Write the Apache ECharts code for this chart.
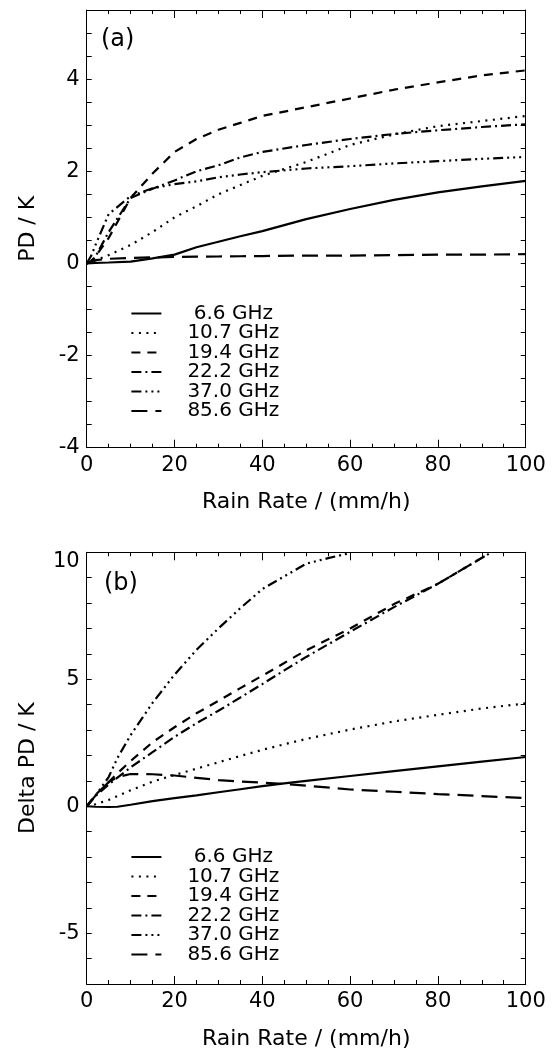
<!DOCTYPE html>
<html>
<head>
<meta charset="utf-8">
<script src="https://cdn.jsdelivr.net/npm/echarts@6.0.0/dist/echarts.min.js"></script>
<style>
html,body{margin:0;padding:0;background:#fff;}
#chart{width:552px;height:1051px;}
</style>
</head>
<body>
<div id="chart"></div>
<script>
// ---------- data ----------
const seriesNames = [' 6.6 GHz', '10.7 GHz', '19.4 GHz', '22.2 GHz', '37.0 GHz', '85.6 GHz'];
const xTicks = [0, 20, 40, 60, 80, 100];

// panel (a): PD / K
const rainA = [0, 1, 2, 5, 10, 15, 20, 25, 30, 35, 40, 50, 60, 70, 80, 90, 100];
const pdA_066 = [0, 0.005, 0.01, 0.02, 0.04, 0.11, 0.19, 0.35, 0.47, 0.59, 0.70, 0.96, 1.18, 1.38, 1.54, 1.67, 1.79];
const pdA_107 = [0, 0.03, 0.07, 0.18, 0.40, 0.68, 1.00, 1.24, 1.50, 1.70, 1.90, 2.20, 2.57, 2.80, 2.98, 3.09, 3.20];
const pdA_194 = [0, 0.05, 0.15, 0.55, 1.42, 1.95, 2.42, 2.70, 2.90, 3.05, 3.20, 3.39, 3.58, 3.77, 3.93, 4.08, 4.19];
const pdA_222 = [0, 0.03, 0.15, 0.68, 1.42, 1.62, 1.80, 2.00, 2.13, 2.30, 2.42, 2.57, 2.70, 2.81, 2.89, 2.96, 3.02];
const pdA_370 = [0, 0.16, 0.40, 1.07, 1.46, 1.63, 1.72, 1.78, 1.87, 1.93, 1.98, 2.06, 2.11, 2.17, 2.22, 2.27, 2.31];
const pdA_856 = [0, 0.04, 0.07, 0.10, 0.12, 0.13, 0.14, 0.145, 0.15, 0.155, 0.16, 0.17, 0.17, 0.18, 0.19, 0.19, 0.20];

// panel (b): Delta PD / K
const rainB = [0, 2, 5, 7, 10, 15, 20, 25, 30, 35, 40, 45, 50, 60, 70, 80, 90, 100];
const rainB_194 = [0, 2, 5, 7, 10, 15, 20, 25, 30, 35, 40, 45, 50, 60, 70, 80, 90, 92];
const rainB_222 = [0, 2, 5, 7, 10, 15, 20, 25, 30, 35, 40, 45, 50, 60, 70, 80, 90, 92];
const rainB_370 = [0, 2, 5, 7, 10, 15, 20, 25, 30, 35, 40, 45, 50, 55, 60];
const dpdB_066 = [0, -0.02, -0.03, -0.02, 0.06, 0.20, 0.32, 0.43, 0.55, 0.67, 0.79, 0.90, 1.00, 1.19, 1.38, 1.57, 1.76, 1.94];
const dpdB_107 = [0, 0.08, 0.25, 0.40, 0.63, 0.97, 1.23, 1.48, 1.73, 1.98, 2.22, 2.44, 2.65, 3.02, 3.34, 3.60, 3.85, 4.05];
const dpdB_194 = [0, 0.45, 0.95, 1.30, 1.78, 2.52, 3.11, 3.66, 4.15, 4.65, 5.14, 5.64, 6.14, 7.00, 7.96, 8.76, 9.78, 9.98];
const dpdB_222 = [0, 0.40, 0.85, 1.13, 1.53, 2.13, 2.73, 3.27, 3.76, 4.28, 4.81, 5.35, 5.88, 6.87, 7.84, 8.76, 9.78, 9.98];
const dpdB_370 = [0, 0.42, 1.15, 1.90, 2.80, 4.07, 5.18, 6.16, 7.00, 7.80, 8.55, 9.05, 9.55, 9.77, 9.97];
const dpdB_856 = [0, 0.42, 0.95, 1.15, 1.27, 1.26, 1.21, 1.12, 1.03, 0.97, 0.93, 0.88, 0.81, 0.66, 0.57, 0.48, 0.40, 0.32];

// ---------- styles ----------
const FONT = 'DejaVu Sans, Liberation Sans, Arial, sans-serif';
const dashStyles = ['solid', [2, 5.5], [9, 7], [10, 4, 2, 4], [10, 4, 2, 4, 2, 4, 2, 4], [16, 8]];

function zip(xs, ys) { return xs.map((x, i) => [x, ys[i]]); }

const panelA = [
  zip(rainA, pdA_066), zip(rainA, pdA_107), zip(rainA, pdA_194),
  zip(rainA, pdA_222), zip(rainA, pdA_370), zip(rainA, pdA_856)
];
const panelB = [
  zip(rainB, dpdB_066), zip(rainB, dpdB_107), zip(rainB_194, dpdB_194),
  zip(rainB_222, dpdB_222), zip(rainB_370, dpdB_370), zip(rainB, dpdB_856)
];

const grids = [
  { left: 86.7, top: 10, width: 439, height: 437.7 },
  { left: 86.7, top: 552.3, width: 439, height: 438.7 }
];

function xAxes(g) {
  const base = {
    type: 'value', gridIndex: g, min: xTicks[0], max: xTicks[xTicks.length - 1], interval: 20,
    axisLine: { show: true, onZero: false, lineStyle: { color: '#000', width: 1 } },
    axisTick: { show: true, inside: true, length: 8, lineStyle: { color: '#000', width: 1 } },
    minorTick: { show: true, splitNumber: 4, length: 4, lineStyle: { color: '#000', width: 1 } },
    splitLine: { show: false }, minorSplitLine: { show: false }
  };
  return [
    Object.assign({}, base, {
      position: 'bottom',
      axisLabel: { show: true, fontSize: 21, color: '#000', fontFamily: FONT, margin: 7 },
      name: 'Rain Rate / (mm/h)', nameLocation: 'middle', nameGap: 44,
      nameTextStyle: { fontSize: 22, color: '#000', fontFamily: FONT }
    }),
    Object.assign({}, base, { position: 'top', axisLabel: { show: false } })
  ];
}

function yAxes(g, min, max, step, labelStep, name, topLabelShift) {
  const base = {
    type: 'value', gridIndex: g, min: min, max: max, interval: step,
    axisLine: { show: true, onZero: false, lineStyle: { color: '#000', width: 1 } },
    axisTick: { show: true, inside: true, length: 5, lineStyle: { color: '#000', width: 1 } },
    splitLine: { show: false }
  };
  return [
    Object.assign({}, base, {
      position: 'left',
      axisLabel: {
        show: true, fontSize: 21, color: '#000', fontFamily: FONT, margin: 7,
        showMaxLabel: true,
        formatter: function (v) {
          const r = Math.round(v * 1000) / 1000;
          if (Math.abs(r / labelStep - Math.round(r / labelStep)) > 1e-6) return '';
          if (topLabelShift && r === max) return '{t|' + r + '}';
          return String(r);
        },
        rich: { t: { fontSize: 21, color: '#000', fontFamily: FONT, padding: [18, 0, 0, 0] } }
      },
      name: name, nameLocation: 'middle', nameGap: 47,
      nameTextStyle: { fontSize: 22, color: '#000', fontFamily: FONT }
    }),
    Object.assign({}, base, { position: 'right', axisLabel: { show: false } })
  ];
}

const series = [];
[panelA, panelB].forEach((panel, g) => {
  panel.forEach((data, i) => {
    series.push({
      type: 'line', name: seriesNames[i], data: data,
      xAxisIndex: g * 2, yAxisIndex: g * 2,
      symbol: 'none', smooth: false, clip: true, animation: false,
      lineStyle: { color: '#000', width: 2.2, type: dashStyles[i] },
      itemStyle: { color: '#000' }
    });
  });
});

function legendAt(top) {
  return {
    data: seriesNames, orient: 'vertical', left: 130.4, top: top,
    itemWidth: 30, itemHeight: 19.5, itemGap: -0.5, padding: 0,
    selectedMode: false,
    itemStyle: { opacity: 0 },
    textStyle: { fontSize: 20, color: '#000', fontFamily: FONT, padding: [0, 0, 0, 21] }
  };
}

const option = {
  backgroundColor: '#fff',
  animation: false,
  grid: grids,
  xAxis: xAxes(0).concat(xAxes(1)),
  yAxis: yAxes(0, -4, 5.5, 0.5, 2, 'PD / K', false).concat(yAxes(1, -7, 10, 1, 5, 'Delta PD / K', true)),
  legend: [legendAt(303.5), legendAt(847)],
  series: series,
  graphic: [
    { type: 'text', x: 101, y: 39.3, style: { text: '(a)', font: '24px ' + FONT, fill: '#000', verticalAlign: 'middle' } },
    { type: 'text', x: 104, y: 584, style: { text: '(b)', font: '24px ' + FONT, fill: '#000', verticalAlign: 'middle' } }
  ]
};

const chart = echarts.init(document.getElementById('chart'), null, { renderer: 'canvas' });
chart.setOption(option);
</script>
</body>
</html>
